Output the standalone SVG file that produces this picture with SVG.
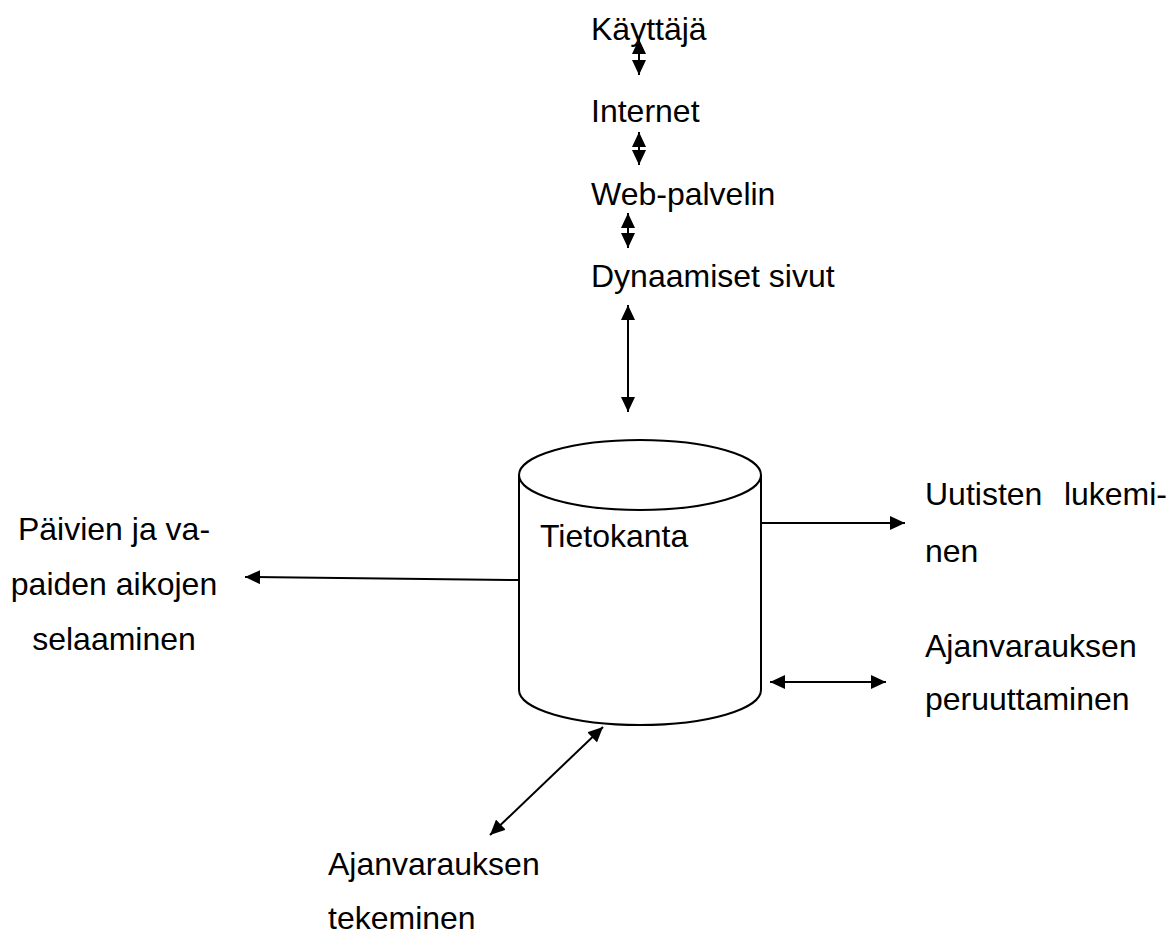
<svg xmlns="http://www.w3.org/2000/svg" width="1172" height="932" viewBox="0 0 1172 932">
<defs>
<marker id="ah" viewBox="0 0 15 14" refX="15" refY="7" markerWidth="15" markerHeight="14" markerUnits="userSpaceOnUse" orient="auto-start-reverse">
<path d="M0,0 L15,7 L0,14 z" fill="#000"/>
</marker>
<style>
text{font-family:"Liberation Sans",Arial,sans-serif;font-size:32px;fill:#000}
.c{fill:#fff;stroke:#000;stroke-width:2}
.l{stroke:#000;stroke-width:2;fill:none}
.a{marker-end:url(#ah)}
.d{marker-start:url(#ah);marker-end:url(#ah)}
</style>
</defs>
<rect width="1172" height="932" fill="#fff"/>
<g id="kayttaja"><text x="591" y="40">Käyttäjä</text></g>
<g id="internet"><text x="591" y="122">Internet</text></g>
<g id="web-palvelin"><text x="591" y="205">Web-palvelin</text></g>
<g id="dynaamiset"><text x="591" y="287">Dynaamiset sivut</text></g>
<g id="tietokanta">
<path class="c" d="M519,475 L519,690 A121,35 0 0 0 761,690 L761,475"/>
<ellipse class="c" cx="640" cy="475" rx="121" ry="35"/>
<text x="540" y="547">Tietokanta</text>
</g>
<g id="paivien">
<text x="114" y="540" text-anchor="middle">Päivien ja va-</text>
<text x="114" y="595" text-anchor="middle">paiden aikojen</text>
<text x="114" y="650" text-anchor="middle">selaaminen</text>
</g>
<g id="uutiset">
<text x="925" y="505">Uutisten</text>
<text x="1167" y="505" text-anchor="end">lukemi-</text>
<text x="925" y="562">nen</text>
</g>
<g id="peruuttaminen">
<text x="925" y="657">Ajanvarauksen</text>
<text x="925" y="710">peruuttaminen</text>
</g>
<g id="tekeminen">
<text x="328" y="875">Ajanvarauksen</text>
<text x="328" y="929">tekeminen</text>
</g>
<g id="connectors">
<line class="l d" x1="639" y1="39" x2="639" y2="75"/>
<line class="l d" x1="639" y1="132" x2="639" y2="165"/>
<line class="l d" x1="628" y1="213" x2="628" y2="248"/>
<line class="l d" x1="628" y1="305" x2="628" y2="412"/>
<line class="l a" x1="519" y1="580" x2="245" y2="577"/>
<line class="l a" x1="762" y1="523" x2="905" y2="523"/>
<line class="l d" x1="770" y1="682" x2="886" y2="682"/>
<line class="l d" x1="603" y1="727" x2="490" y2="835"/>
</g>
</svg>
